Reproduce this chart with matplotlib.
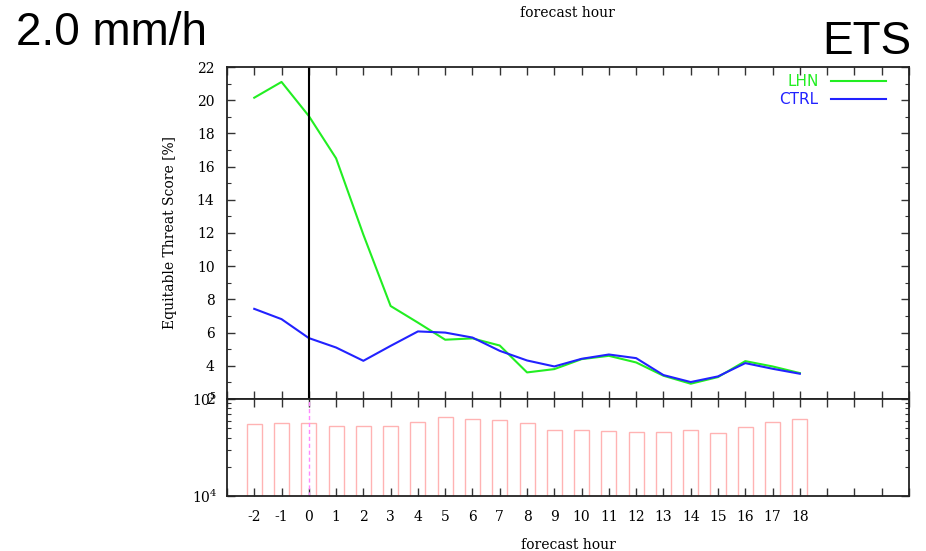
import matplotlib
matplotlib.use("Agg")
import matplotlib.pyplot as plt
from matplotlib.ticker import MultipleLocator, FixedLocator, FuncFormatter, LogLocator, NullFormatter

# forecast hours and scores
hours = list(range(-2, 19))
ets_lhn = [20.15, 21.1, 19.05, 16.5, 11.9, 7.6, 6.6, 5.57, 5.65, 5.22, 3.6, 3.8,
           4.4, 4.6, 4.2, 3.4, 2.92, 3.32, 4.28, 3.96, 3.56]
ets_ctrl = [7.43, 6.81, 5.67, 5.1, 4.3, 5.2, 6.07, 6.0, 5.7, 4.9, 4.32, 3.96,
            4.42, 4.68, 4.46, 3.44, 3.02, 3.36, 4.16, 3.82, 3.52]
# number of verified grid points per hour
n_points = [55000, 56600, 56600, 53200, 53200, 52800, 58400, 64850, 62600, 60800,
            56600, 47650, 48000, 46550, 46100, 46100, 47650, 44750, 51200, 58400, 62700]

plt.rcParams.update({
    'font.family': 'DejaVu Serif',
    'font.size': 10,
    'mathtext.fontset': 'dejavuserif',
    'axes.linewidth': 1.3,
    'axes.edgecolor': '#222222',
})

fig = plt.figure(figsize=(9.26, 5.51), dpi=100)
ax = fig.add_axes([0.2451, 0.2759, 0.7365, 0.6025])
axb = fig.add_axes([0.2451, 0.0998, 0.7365, 0.1760], sharex=ax)

green = '#22ee22'
blue = '#2222ff'

ax.plot(hours, ets_lhn, color=green, lw=1.5, label='LHN')
ax.plot(hours, ets_ctrl, color=blue, lw=1.5, label='CTRL')
ax.axvline(0, color='black', lw=1.5)

ax.set_xlim(-3, 22)
ax.set_ylim(2, 22)
ax.yaxis.set_major_locator(MultipleLocator(2))
ax.yaxis.set_minor_locator(MultipleLocator(1))
ax.set_ylabel('Equitable Threat Score [%]')
ax.yaxis.set_label_coords(-0.073, 0.5)

leg = ax.legend(loc='upper right', bbox_to_anchor=(0.986, 1.02), frameon=False,
                markerfirst=False, labelcolor='linecolor', handlelength=3.6,
                handletextpad=0.8, labelspacing=0.2,
                prop={'family': 'DejaVu Sans', 'size': 11})

# pixel-count bars on a log scale
axb.bar(hours, n_points, width=0.55, fill=False, edgecolor='#ffb3b3', lw=1.0)
axb.axvline(0, color='#ff88ff', lw=1.0, ls=(0, (3, 2)))
axb.set_yscale('log')
axb.set_ylim(1e4, 1e5)
axb.yaxis.set_major_locator(LogLocator(base=10, numticks=5))
axb.yaxis.set_minor_locator(LogLocator(base=10, subs=range(2, 10), numticks=12))
axb.yaxis.set_minor_formatter(NullFormatter())
axb.set_xlabel('forecast hour', labelpad=10)

xt = list(range(-3, 23))
axb.xaxis.set_major_locator(FixedLocator(xt))
axb.xaxis.set_major_formatter(FuncFormatter(lambda v, p: f'{int(v)}' if -2 <= v <= 18 else ''))

for a in (ax, axb):
    a.tick_params(which='major', direction='in', length=6, width=1.0,
                  top=True, right=True, color='#333333')
    a.tick_params(which='minor', direction='in', length=3, width=0.8,
                  top=True, right=True, color='#333333')
    a.tick_params(axis='y', pad=9)
ax.tick_params(axis='x', labelbottom=False)
axb.tick_params(axis='y', pad=7)
axb.tick_params(axis='x', pad=10)
axb.tick_params(axis='x', which='minor', length=0)

fig.text(0.017, 0.918, '2.0 mm/h', family='Liberation Sans', fontsize=33, ha='left', va='baseline')
fig.text(0.984, 0.902, 'ETS', family='Liberation Sans', fontsize=33, ha='right', va='baseline')
fig.text(0.6125, 0.969, 'forecast hour', ha='center', va='baseline')

fig.savefig('out.png', dpi=100)
